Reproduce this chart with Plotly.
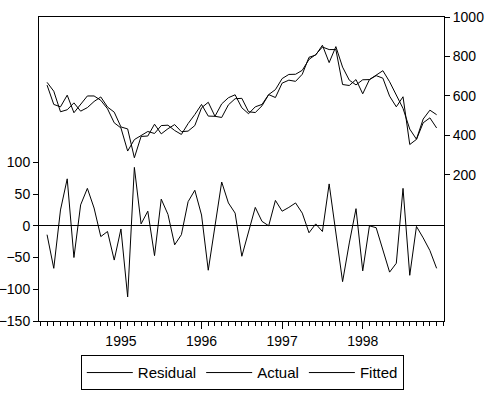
import plotly.graph_objects as go

# Monthly observations 1994:02 - 1998:12
start_year, start_month, n_obs = 1994, 2, 59
periods = []
y, m = start_year, start_month
for _ in range(n_obs):
    periods.append(f"{y}:{m:02d}")
    m += 1
    if m > 12:
        m = 1
        y += 1

residual = [-14, -67, 25, 74, -50, 33, 59, 28, -17, -9,
             -54, -5, -112, 92, 3, 23, -47, 42, 18, -30,
             -14, 38, 56, 17, -70, 0, 69, 36, 20, -48,
             -10, 29, 7, 0, 40, 23, 29, 36, 20, -11,
             3, -9, 66, -15, -88, -27, 27, -71, 0, -3,
             -38, -73, -59, 59, -78, -1, -19, -39, -67]

actual = [655, 557, 545, 604, 515, 556, 600, 600, 578, 535,
          464, 438, 321, 379, 398, 420, 410, 450, 452, 425,
          405, 460, 506, 557, 498, 497, 560, 591, 606, 540,
          510, 545, 557, 607, 632, 688, 709, 710, 730, 785,
          810, 848, 835, 835, 658, 653, 683, 611, 683, 703,
          690, 599, 545, 596, 354, 380, 464, 489, 438]

fitted = [669, 624, 520, 530, 565, 523, 541, 572, 595, 544,
          518, 443, 433, 287, 395, 397, 457, 408, 434, 455,
          419, 422, 450, 540, 568, 497, 491, 555, 586, 588,
          520, 516, 550, 607, 592, 665, 680, 674, 710, 796,
          807, 857, 769, 850, 746, 680, 656, 682, 683, 706,
          728, 672, 604, 537, 432, 381, 483, 528, 505]

year_tick_periods = ["1995:01", "1996:01", "1997:01", "1998:01"]
year_tick_labels = ["1995", "1996", "1997", "1998"]
left_ticks = [-150, -100, -50, 0, 50, 100]
right_ticks = [200, 400, 600, 800, 1000]

x = list(range(len(periods)))
year_tick_pos = [periods.index(p) for p in year_tick_periods]

line_style = dict(color="black", width=1)
fig = go.Figure()
fig.add_trace(go.Scatter(x=x, y=residual, mode="lines", name="Residual",
                         line=line_style, yaxis="y"))
fig.add_trace(go.Scatter(x=x, y=actual, mode="lines", name="Actual",
                         line=line_style, yaxis="y2"))
fig.add_trace(go.Scatter(x=x, y=fitted, mode="lines", name="Fitted",
                         line=line_style, yaxis="y2"))

family = "Liberation Sans, Arial, sans-serif"
font = dict(family=family, size=14, color="black")
fig.update_layout(
    width=490, height=393,
    margin=dict(l=39, r=46, t=17, b=72, autoexpand=False),
    paper_bgcolor="white", plot_bgcolor="white",
    font=font,
    showlegend=True,
    legend=dict(orientation="h", x=0.502, xanchor="center", y=-0.228, yanchor="bottom",
                bordercolor="black", borderwidth=1,
                font=dict(family=family, size=15, color="black"),
                itemwidth=46, tracegroupgap=0),
    xaxis=dict(range=[-1.2, 59.1], tickmode="array", tickvals=year_tick_pos,
               ticktext=year_tick_labels, ticks="outside", ticklen=7,
               tickcolor="black", showgrid=False, zeroline=False, automargin=False,
               showline=True, linecolor="black", linewidth=1, mirror=True,
               minor=dict(tickmode="linear", tick0=0, dtick=1, ticks="outside",
                          ticklen=4, tickcolor="black", showgrid=False)),
    yaxis=dict(range=[-150, 329], tickmode="array", tickvals=left_ticks,
               ticks="outside", ticklen=5, tickcolor="black", showgrid=False,
               automargin=False,
               zeroline=True, zerolinecolor="black", zerolinewidth=1,
               showline=True, linecolor="black", linewidth=1),
    yaxis2=dict(range=[-540, 1000], tickmode="array", tickvals=right_ticks,
                overlaying="y", side="right", ticks="outside", ticklen=5,
                tickcolor="black", showgrid=False, zeroline=False, automargin=False,
                showline=True, linecolor="black", linewidth=1),
)

fig.write_html("out.html", config={"displayModeBar": False},
               post_script="document.body.style.margin='0';document.body.style.overflow='hidden';")
